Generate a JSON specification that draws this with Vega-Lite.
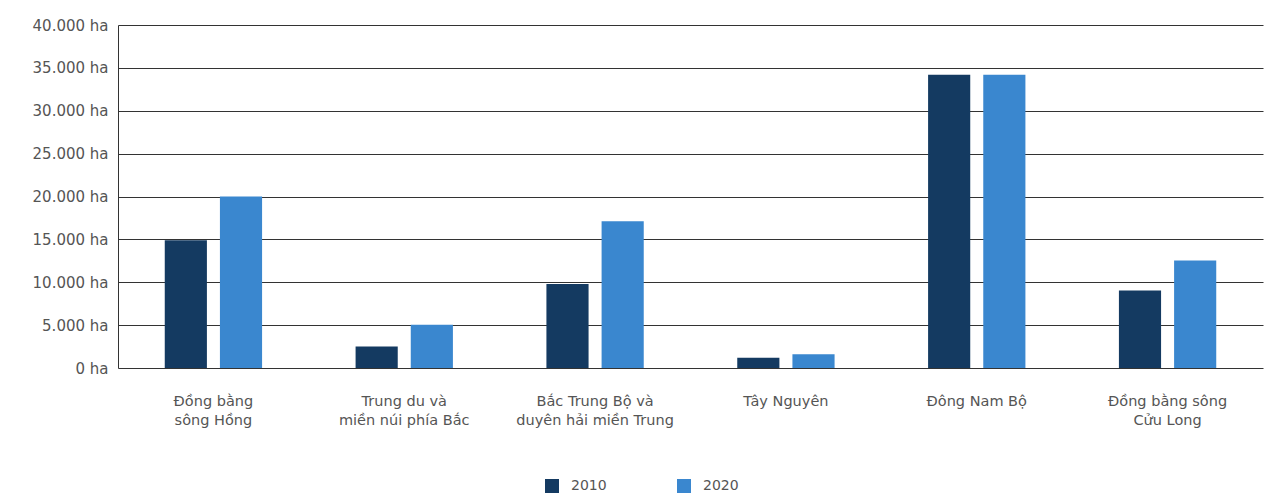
{
  "$schema": "https://vega.github.io/schema/vega-lite/v6.json",
  "autosize": {"type": "none"},
  "padding": {"left": 118, "top": 25, "right": 5, "bottom": 126},
  "width": 1145,
  "height": 343,
  "background": "white",
  "config": {
    "view": {"stroke": null},
    "font": "Lato",
    "axis": {"labelFont": "DejaVu Sans", "labelColor": "#555555", "labelFontSize": 15},
    "legend": {"labelFont": "DejaVu Sans", "labelColor": "#555555", "labelFontSize": 14}
  },
  "data": {
    "values": [
      {"region": "Đồng bằng sông Hồng", "year": "2010", "area": 14900},
      {"region": "Đồng bằng sông Hồng", "year": "2020", "area": 20000},
      {"region": "Trung du và miền núi phía Bắc", "year": "2010", "area": 2500},
      {"region": "Trung du và miền núi phía Bắc", "year": "2020", "area": 5050},
      {"region": "Bắc Trung Bộ và duyên hải miền Trung", "year": "2010", "area": 9800},
      {"region": "Bắc Trung Bộ và duyên hải miền Trung", "year": "2020", "area": 17100},
      {"region": "Tây Nguyên", "year": "2010", "area": 1200},
      {"region": "Tây Nguyên", "year": "2020", "area": 1600},
      {"region": "Đông Nam Bộ", "year": "2010", "area": 34200},
      {"region": "Đông Nam Bộ", "year": "2020", "area": 34200},
      {"region": "Đồng bằng sông Cửu Long", "year": "2010", "area": 9050},
      {"region": "Đồng bằng sông Cửu Long", "year": "2020", "area": 12550}
    ]
  },
  "mark": {"type": "bar"},
  "encoding": {
    "x": {
      "field": "region",
      "type": "nominal",
      "sort": null,
      "title": null,
      "scale": {"paddingInner": 0.49, "paddingOuter": 0.245},
      "axis": {
        "labelAngle": 0,
        "domain": false,
        "ticks": false,
        "labelPadding": 26,
        "labelFontSize": 14.5,
        "labelLineHeight": 19,
        "labelExpr": "{'Đồng bằng sông Hồng': ['Đồng bằng', 'sông Hồng'], 'Trung du và miền núi phía Bắc': ['Trung du và', 'miền núi phía Bắc'], 'Bắc Trung Bộ và duyên hải miền Trung': ['Bắc Trung Bộ và', 'duyên hải miền Trung'], 'Tây Nguyên': 'Tây Nguyên', 'Đông Nam Bộ': 'Đông Nam Bộ', 'Đồng bằng sông Cửu Long': ['Đồng bằng sông', 'Cửu Long']}[datum.value]"
      }
    },
    "xOffset": {
      "field": "year",
      "type": "nominal",
      "scale": {"paddingInner": 0.236, "paddingOuter": 0}
    },
    "y": {
      "field": "area",
      "type": "quantitative",
      "title": null,
      "scale": {"domain": [0, 40000], "nice": false},
      "axis": {
        "values": [0, 5000, 10000, 15000, 20000, 25000, 30000, 35000, 40000],
        "labelExpr": "replace(format(datum.value, ',.0f'), ',', '.') + ' ha'",
        "grid": true,
        "gridColor": "#333333",
        "gridWidth": 1,
        "gridOpacity": 1,
        "domain": true,
        "domainColor": "#333333",
        "domainWidth": 1,
        "ticks": false,
        "labelPadding": 10
      }
    },
    "color": {
      "field": "year",
      "type": "nominal",
      "scale": {"domain": ["2010", "2020"], "range": ["#143a61", "#3a87cf"]},
      "legend": {
        "title": null,
        "orient": "none",
        "direction": "horizontal",
        "legendX": 427,
        "legendY": 454,
        "symbolType": "square",
        "symbolSize": 196,
        "symbolStrokeWidth": 0,
        "labelOffset": 12,
        "columnPadding": 70
      }
    }
  }
}
